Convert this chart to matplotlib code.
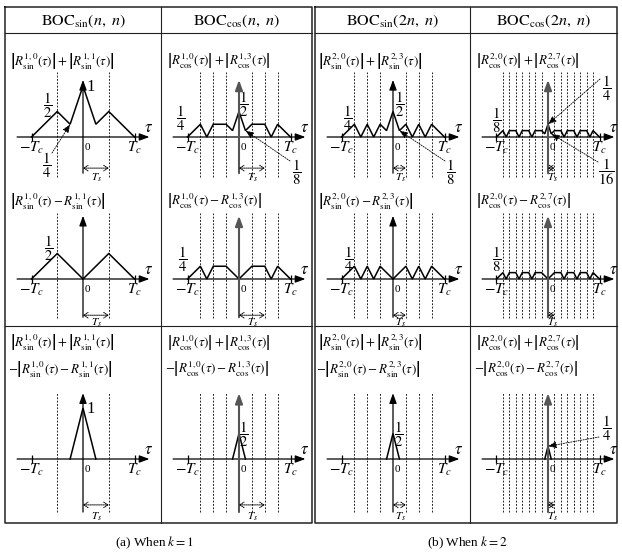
import matplotlib
matplotlib.use("Agg")
import matplotlib.pyplot as plt

plt.rcParams['mathtext.fontset'] = 'stix'
plt.rcParams['font.family'] = 'serif'
plt.rcParams['font.serif'] = ['Liberation Serif', 'DejaVu Serif']

W, H, DPI = 622, 554, 100
TC = 51.5   # pixels per Tc
U = 51.0    # pixels per unit of correlation

# ---- data: breakpoints of the correlation curves (tau in units of Tc) ----
tau_sin1_sum = [-1, -0.5, -0.25, 0, 0.25, 0.5, 1]
r_sin1_sum = [0, 0.5, 0.25, 1, 0.25, 0.5, 0]
tau_sin1_diff = [-1, -0.5, 0, 0.5, 1]
r_sin1_diff = [0, 0.5, 0, 0.5, 0]
tau_sin1_cmb = [-0.25, 0, 0.25]
r_sin1_cmb = [0, 1, 0]

tau_cos1_sum = [-1, -0.75, -0.625, -0.5, -0.25, -0.125, 0, 0.125, 0.25, 0.5, 0.625, 0.75, 1]
r_cos1_sum = [0, 0.25, 0, 0.25, 0.25, 0.125, 0.5, 0.125, 0.25, 0.25, 0, 0.25, 0]
tau_cos1_diff = [-1, -0.75, -0.625, -0.5, -0.25, 0, 0.25, 0.5, 0.625, 0.75, 1]
r_cos1_diff = [0, 0.25, 0, 0.25, 0.25, 0, 0.25, 0.25, 0, 0.25, 0]
tau_cos1_cmb = [-0.125, 0, 0.125]
r_cos1_cmb = [0, 0.5, 0]

tau_sin2_sum = [-1, -0.75, -0.625, -0.5, -0.375, -0.25, -0.125, 0,
                0.125, 0.25, 0.375, 0.5, 0.625, 0.75, 1]
r_sin2_sum = [0, 0.25, 0, 0.25, 0, 0.25, 0.125, 0.5,
              0.125, 0.25, 0, 0.25, 0, 0.25, 0]
tau_sin2_diff = [-1, -0.75, -0.625, -0.5, -0.375, -0.25, 0,
                 0.25, 0.375, 0.5, 0.625, 0.75, 1]
r_sin2_diff = [0, 0.25, 0, 0.25, 0, 0.25, 0, 0.25, 0, 0.25, 0, 0.25, 0]
tau_sin2_cmb = [-0.125, 0, 0.125]
r_sin2_cmb = [0, 0.5, 0]

tau_cos2_sum = [-1, -0.875, -0.8125, -0.75, -0.625, -0.5625, -0.5, -0.375, -0.3125, -0.25,
                -0.125, -0.0625, 0, 0.0625, 0.125, 0.25, 0.3125, 0.375, 0.5, 0.5625,
                0.625, 0.75, 0.8125, 0.875, 1]
r_cos2_sum = [0, 0.125, 0, 0.125, 0.125, 0, 0.125, 0.125, 0, 0.125,
              0.125, 0.0625, 0.25, 0.0625, 0.125, 0.125, 0, 0.125, 0.125, 0,
              0.125, 0.125, 0, 0.125, 0]
tau_cos2_diff = [-1, -0.875, -0.8125, -0.75, -0.625, -0.5625, -0.5, -0.375, -0.3125, -0.25,
                 -0.125, 0, 0.125, 0.25, 0.3125, 0.375, 0.5, 0.5625,
                 0.625, 0.75, 0.8125, 0.875, 1]
r_cos2_diff = [0, 0.125, 0, 0.125, 0.125, 0, 0.125, 0.125, 0, 0.125,
               0.125, 0, 0.125, 0.125, 0, 0.125, 0.125, 0,
               0.125, 0.125, 0, 0.125, 0]
tau_cos2_cmb = [-0.0625, 0, 0.0625]
r_cos2_cmb = [0, 0.25, 0]

dash_sin1 = [-0.5, 0.5]
dash_cos1 = [-0.75, -0.5, -0.25, 0.25, 0.5, 0.75]
dash_sin2 = [-0.75, -0.5, -0.25, 0.25, 0.5, 0.75]
dash_cos2 = [-0.875, -0.75, -0.625, -0.5, -0.375, -0.25, -0.125,
             0.125, 0.25, 0.375, 0.5, 0.625, 0.75, 0.875]
ts_values = [0.5, 0.5, 0.25, 0.125]
tick_pos = [-1, 1]

headers = [r"$\mathrm{BOC}_{\mathrm{sin}}(n,\ n)$", r"$\mathrm{BOC}_{\mathrm{cos}}(n,\ n)$",
           r"$\mathrm{BOC}_{\mathrm{sin}}(2n,\ n)$", r"$\mathrm{BOC}_{\mathrm{cos}}(2n,\ n)$"]
subs = ["sin", "cos", "sin", "cos"]
sups = [("1,0", "1,1"), ("1,0", "1,3"), ("2,0", "2,3"), ("2,0", "2,7")]
captions = [r"(a) When $k = 1$", r"(b) When $k = 2$"]

# ---- layout (pixels) ----
col_x0 = [83, 239, 393, 548]
col_left = [10, 167, 318, 476]
col_head = [83, 236, 392, 543]
row_y0 = [137, 279, 459]
row_box = [(95, 48), (90, 46), (75, 62)]            # px above / below axis
row_vax = [(1.12, -0.71), (1.24, -0.75), (1.29, -1.04)]
row_dash = [(1.27, -0.78), (1.29, -0.76), (1.31, -1.04)]
row_ts = [(-0.61, 178), (-0.71, 323), (-0.90, 517)]

curves = [
    [(tau_sin1_sum, r_sin1_sum), (tau_sin1_diff, r_sin1_diff), (tau_sin1_cmb, r_sin1_cmb)],
    [(tau_cos1_sum, r_cos1_sum), (tau_cos1_diff, r_cos1_diff), (tau_cos1_cmb, r_cos1_cmb)],
    [(tau_sin2_sum, r_sin2_sum), (tau_sin2_diff, r_sin2_diff), (tau_sin2_cmb, r_sin2_cmb)],
    [(tau_cos2_sum, r_cos2_sum), (tau_cos2_diff, r_cos2_diff), (tau_cos2_cmb, r_cos2_cmb)],
]
dashes = [dash_sin1, dash_cos1, dash_sin2, dash_cos2]

fig = plt.figure(figsize=(W / DPI, H / DPI), dpi=DPI)
bg = fig.add_axes([0, 0, 1, 1])
bg.set_xlim(0, W)
bg.set_ylim(H, 0)
bg.axis('off')

# table frames
fc = '#222222'
for (l, r) in [(5, 312), (315, 617)]:
    bg.plot([l, r, r, l, l], [7, 7, 523, 523, 7], color=fc, lw=1.1)
    bg.plot([l, r], [33, 33], color=fc, lw=0.8)
    bg.plot([l, r], [326, 326], color=fc, lw=0.8)
bg.plot([161, 161], [7, 523], color=fc, lw=0.8)
bg.plot([470, 470], [7, 523], color=fc, lw=0.8)

for c in range(4):
    bg.text(col_head[c], 21, headers[c], ha='center', va='center', fontsize=11.5)
    R1 = r"R_{\mathrm{%s}}^{%s}(\tau)" % (subs[c], sups[c][0])
    R2 = r"R_{\mathrm{%s}}^{%s}(\tau)" % (subs[c], sups[c][1])
    s_sum = r"$\left|" + R1 + r"\right|+\left|" + R2 + r"\right|$"
    s_diff = r"$\left|" + R1 + "-" + R2 + r"\right|$"
    s_neg = r"$-\left|" + R1 + "-" + R2 + r"\right|$"
    bg.text(col_left[c], 61, s_sum, ha='left', va='center', fontsize=9.4)
    bg.text(col_left[c], 201, s_diff, ha='left', va='center', fontsize=9.4)
    bg.text(col_left[c], 342, s_sum, ha='left', va='center', fontsize=9.4)
    bg.text(col_left[c] - 2, 369, s_neg, ha='left', va='center', fontsize=9.4)

bg.text(155, 543, captions[0], ha='center', va='center', fontsize=9.5)
bg.text(467, 543, captions[1], ha='center', va='center', fontsize=9.5)

axes = {}
for c in range(4):
    x0 = col_x0[c]
    cos_col = subs[c] == "cos"
    for r in range(3):
        y0 = row_y0[r]
        top, bot = row_box[r]
        half = 80
        ax = fig.add_axes([(x0 - half) / W, (H - (y0 + bot)) / H, 2 * half / W, (top + bot) / H])
        ax.set_xlim(-half / TC, half / TC)
        ax.set_ylim(-bot / U, top / U)
        ax.axis('off')
        axes[(c, r)] = ax

        ax.vlines(dashes[c], row_dash[r][1], row_dash[r][0], colors='k',
                  linestyles=(0, (2.2, 1.8)), lw=0.6)
        ax.annotate('', xy=(1.29, 0), xytext=(-1.28, 0),
                    arrowprops=dict(arrowstyle='-|>,head_length=0.6,head_width=0.22',
                                    lw=0.9, color='k', shrinkA=0, shrinkB=0))
        ax.annotate('', xy=(0, row_vax[r][0]), xytext=(0, row_vax[r][1]),
                    arrowprops=dict(arrowstyle='-|>,head_length=0.6,head_width=0.22',
                                    lw=1.5 if cos_col else 0.9,
                                    color='#555555' if cos_col else 'k',
                                    shrinkA=0, shrinkB=0))
        ax.vlines(tick_pos, -0.07, 0.07, colors='k', lw=0.9)
        tau, val = curves[c][r]
        ax.plot(tau, val, color='k', lw=1.1, solid_joinstyle='miter', clip_on=False)

        ts = ts_values[c]
        ax.annotate('', xy=(ts, row_ts[r][0]), xytext=(0, row_ts[r][0]),
                    arrowprops=dict(arrowstyle='<->,head_length=0.3,head_width=0.2',
                                    linestyle=(0, (1, 1)), lw=0.7, color='k',
                                    shrinkA=0, shrinkB=0))
        bg.text(x0 + ts * TC / 2 + 1, row_ts[r][1], r"$T_s$", ha='center', va='center', fontsize=8)

        bg.text(x0 - TC, y0 + 11, r"$-T_c$", ha='center', va='center', fontsize=11)
        bg.text(x0 + TC, y0 + 11, r"$T_c$", ha='center', va='center', fontsize=11)
        bg.text(x0 + 2, y0 + 11, "0", ha='left', va='center', fontsize=8)
        bg.text(x0 + 66, y0 - 9, r"$\tau$", ha='center', va='center', fontsize=12)

# ---- value labels ----
def frac(n, d):
    return r"$\dfrac{%d}{%d}$" % (n, d)

fs = 10.5
labels = [
    (0, 0, frac(1, 2), 48, 105), (0, 0, "1", 91, 87),
    (1, 0, frac(1, 4), 181, 118), (1, 0, frac(1, 2), 244, 104),
    (2, 0, frac(1, 4), 348, 118), (2, 0, frac(1, 2), 400, 104),
    (3, 0, frac(1, 8), 497, 120),
    (0, 1, frac(1, 2), 49, 248), (1, 1, frac(1, 4), 183, 259),
    (2, 1, frac(1, 4), 349, 259), (3, 1, frac(1, 8), 497, 259),
    (0, 2, "1", 91, 409), (1, 2, frac(1, 2), 244, 434), (2, 2, frac(1, 2), 399, 434),
]
for c, r, s, x, y in labels:
    if s == "1":
        bg.text(x, y, "1", ha='center', va='center', fontsize=12)
    else:
        bg.text(x, y, s, ha='center', va='center', fontsize=fs)

# labels with pointer arrows: (col, row, text, label x, label y, arrow start x, y, target tau, target val)
pointers = [
    (0, 0, frac(1, 4), 47, 165, 52, 153, -0.25, 0.25),
    (1, 0, frac(1, 8), 297, 172, 290, 161, 0.125, 0.125),
    (2, 0, frac(1, 8), 451, 172, 445, 161, 0.125, 0.125),
    (3, 0, frac(1, 4), 607, 88, 600, 79, 0.0, 0.25),
    (3, 0, frac(1, 16), 606, 172, 598, 162, 0.0625, 0.0625),
    (3, 2, frac(1, 4), 607, 428, 599, 437, 0.0, 0.25),
]
for c, r, s, lx, ly, ax_, ay_, tx, ty in pointers:
    bg.text(lx, ly, s, ha='center', va='center', fontsize=fs)
    axes[(c, r)].annotate('', xy=(tx, ty), xycoords='data',
                          xytext=(ax_, ay_), textcoords=bg.transData,
                          arrowprops=dict(arrowstyle='-|>,head_length=0.5,head_width=0.2',
                                          linestyle=(0, (1.5, 1.5)), lw=0.6, color='k',
                                          shrinkA=0, shrinkB=0))

fig.savefig("out.png", dpi=DPI)
